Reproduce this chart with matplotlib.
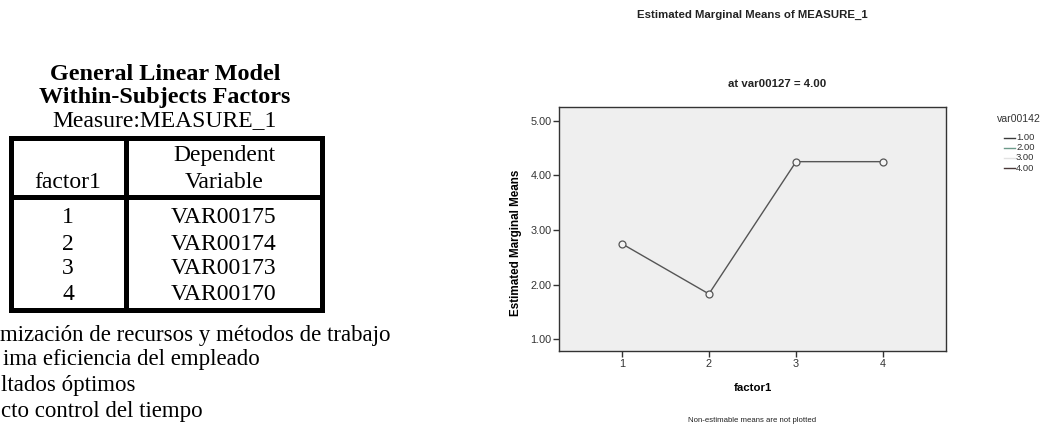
import matplotlib
matplotlib.use("Agg")
import matplotlib.pyplot as plt
from matplotlib.lines import Line2D

# ---- data ----
factor_levels = [1, 2, 3, 4]
means = [2.75, 1.83, 4.25, 4.25]
y_ticks = [1.0, 2.0, 3.0, 4.0, 5.0]
legend_levels = ["1.00", "2.00", "3.00", "4.00"]
legend_colors = ["#3a3a3a", "#6d9a8a", "#e2e2e2", "#4a3838"]
table_factor = ["1", "2", "3", "4"]
table_vars = ["VAR00175", "VAR00174", "VAR00173", "VAR00170"]
notes = ["mización de recursos y métodos de trabajo",
         "ima eficiencia del empleado",
         "ltados óptimos",
         "cto control del tiempo"]

W, H = 1045, 433
fig = plt.figure(figsize=(W / 100, H / 100), dpi=100)
fig.patch.set_facecolor("white")

def fx(px):
    return px / W

def fy(py):
    return 1 - py / H

serif = "Liberation Serif"
sans = "Liberation Sans"
tfs = 17.0

# ---- left: SPSS table ----
fig.text(fx(165), fy(75), "General Linear Model", family=serif, weight="bold",
         fontsize=17.4, ha="center", va="center")
fig.text(fx(165), fy(97), "Within-Subjects Factors", family=serif, weight="bold",
         fontsize=17.4, ha="center", va="center")
fig.text(fx(165), fy(121), "Measure:MEASURE_1", family=serif,
         fontsize=tfs, ha="center", va="center")

lw = 3.6
def hline(x0, x1, y):
    fig.add_artist(Line2D([fx(x0), fx(x1)], [fy(y), fy(y)], lw=lw, color="black",
                          solid_capstyle="projecting"))
def vline(x, y0, y1):
    fig.add_artist(Line2D([fx(x), fx(x)], [fy(y0), fy(y1)], lw=lw, color="black",
                          solid_capstyle="projecting"))

hline(11, 322, 138)
hline(11, 322, 197)
hline(11, 322, 310)
vline(11, 138, 310)
vline(126, 138, 310)
vline(322, 138, 310)

fig.text(fx(68), fy(183), "factor1", family=serif, fontsize=tfs, ha="center", va="center")
fig.text(fx(224), fy(155), "Dependent", family=serif, fontsize=tfs, ha="center", va="center")
fig.text(fx(224), fy(183), "Variable", family=serif, fontsize=tfs, ha="center", va="center")
row_y = [217, 244, 269, 294]
for f, v, yy in zip(table_factor, table_vars, row_y):
    fig.text(fx(68), fy(yy), f, family=serif, fontsize=tfs, ha="center", va="center")
    fig.text(fx(224), fy(yy), v, family=serif, fontsize=tfs, ha="center", va="center")

note_x = [0, 3, 1, 1]
note_y = [335, 359, 385, 411]
for t, xx, yy in zip(notes, note_x, note_y):
    fig.text(fx(xx), fy(yy), t, family=serif, fontsize=16.5, ha="left", va="center")

# ---- right: profile plot ----
ax = fig.add_axes([fx(559), fy(351), fx(946) - fx(559), fy(107) - fy(351)])
ax.set_facecolor("#efefef")
ax.plot(factor_levels, means, color="#555555", lw=1.0, marker="o", markersize=5,
        markerfacecolor="#f4f4f4", markeredgecolor="#555555", markeredgewidth=0.9)
ax.set_xlim(0.28, 4.72)
ax.set_ylim(0.786, 5.25)
ax.set_xticks(factor_levels)
ax.set_xticklabels([str(v) for v in factor_levels])
ax.set_yticks(y_ticks)
ax.set_yticklabels(["%.2f" % v for v in y_ticks])
ax.tick_params(axis="both", direction="out", length=4, width=1, colors="#333333",
               labelsize=7.8, pad=1.5)
for lab in ax.get_xticklabels() + ax.get_yticklabels():
    lab.set_family(sans)
    lab.set_color("#333333")
for s in ax.spines.values():
    s.set_color("#333333")
    s.set_linewidth(1.0)
ax.set_xlabel("factor1", family=sans, weight="bold", fontsize=8.2, labelpad=10)
ax.set_ylabel("Estimated Marginal Means", family=sans, weight="bold", fontsize=8.4)
ax.yaxis.set_label_coords(-0.096, 0.445)

fig.text(fx(752), fy(15), "Estimated Marginal Means of MEASURE_1", family=sans,
         weight="bold", fontsize=8.2, ha="center", va="center", color="#222222")
fig.text(fx(777), fy(84), "at var00127 = 4.00", family=sans, weight="bold",
         fontsize=8.2, ha="center", va="center", color="#222222")
fig.text(fx(752), fy(420), "Non-estimable means are not plotted", family=sans,
         fontsize=5.6, ha="center", va="center", color="#222222")

# ---- legend (var00142) ----
fig.text(fx(997), fy(119), "var00142", family=sans, fontsize=7.6,
         ha="left", va="center", color="#333333")
leg_y = [138, 148, 158, 168]
for lab, col, yy in zip(legend_levels, legend_colors, leg_y):
    fig.add_artist(Line2D([fx(1004), fx(1015)], [fy(yy), fy(yy)], color=col, lw=1.0))
    fig.text(fx(1016), fy(yy), lab, family=sans, fontsize=6.8,
             ha="left", va="center", color="#333333")

fig.savefig("out.png", dpi=100)
